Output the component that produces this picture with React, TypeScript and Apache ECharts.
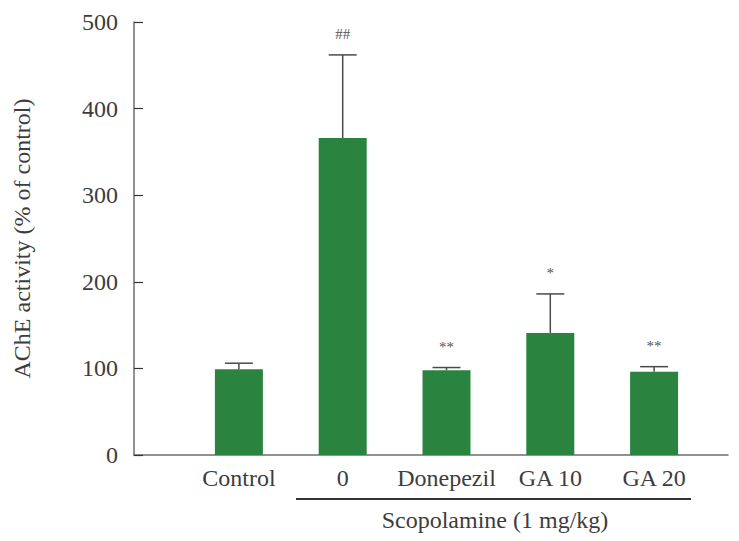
import React, { useEffect, useRef } from "react";
import * as echarts from "echarts";

const categories = ["Control", "0", "Donepezil", "GA 10", "GA 20"];
const means = [99, 366, 98, 141, 96];
const errorTops = [106, 462, 101, 186, 102];
const marks = ["", "##", "**", "*", "**"];
const yTicks = { min: 0, max: 500, interval: 100 };
const yTitle = "AChE activity (% of control)";
const groupLabel = "Scopolamine (1 mg/kg)";

const FONT = "'Liberation Serif', 'DejaVu Serif', serif";
const TEXT = "#3d3d3d";
const BAR = "#2a843f";

export default function App() {
  const ref = useRef<HTMLDivElement>(null);
  useEffect(() => {
    if (!ref.current) return;
    const chart = echarts.init(ref.current, null, { renderer: "svg" });
    const top = 22;
    const bottom = 86;
    chart.setOption({
      animation: false,
      backgroundColor: "#ffffff",
      grid: [
        { left: 134, right: 11, top, bottom },
        { left: 187, right: 33, top, bottom },
      ],
      xAxis: [
        {
          type: "value",
          gridIndex: 0,
          min: 0,
          max: 1,
          axisLine: { show: true, lineStyle: { color: "#6e6e6e", width: 1.5 } },
          axisTick: { show: false },
          axisLabel: { show: false },
          splitLine: { show: false },
        },
        {
          type: "category",
          gridIndex: 1,
          data: categories,
          axisLine: { show: false },
          axisTick: { show: false },
          axisLabel: {
            color: TEXT,
            fontFamily: FONT,
            fontSize: 24,
            margin: 11,
            interval: 0,
          },
          splitLine: { show: false },
        },
      ],
      yAxis: [
        {
          type: "value",
          gridIndex: 0,
          min: yTicks.min,
          max: yTicks.max,
          interval: yTicks.interval,
          name: yTitle,
          nameLocation: "middle",
          nameGap: 100,
          nameTextStyle: { color: TEXT, fontFamily: FONT, fontSize: 24 },
          axisLine: { show: true, lineStyle: { color: "#6e6e6e", width: 1.5 } },
          axisTick: { show: true, inside: true, length: 9, lineStyle: { color: "#333", width: 1.2 } },
          axisLabel: { color: TEXT, fontFamily: FONT, fontSize: 24, margin: 16 },
          splitLine: { show: false },
        },
        {
          type: "value",
          gridIndex: 1,
          min: yTicks.min,
          max: yTicks.max,
          interval: yTicks.interval,
          show: false,
          splitLine: { show: false },
        },
      ],
      series: [
        {
          type: "bar",
          xAxisIndex: 1,
          yAxisIndex: 1,
          data: means,
          barWidth: 48,
          itemStyle: { color: BAR },
        },
        {
          type: "custom",
          xAxisIndex: 1,
          yAxisIndex: 1,
          data: means.map((m, i) => [i, m, errorTops[i]]),
          z: 5,
          renderItem: (params: any, api: any) => {
            const i = api.value(0);
            const low = api.coord([i, api.value(1)]);
            const high = api.coord([i, api.value(2)]);
            const half = 14;
            const stroke = { stroke: "#4a4a4a", lineWidth: 1.5 };
            const children: any[] = [
              { type: "line", shape: { x1: low[0], y1: low[1], x2: high[0], y2: high[1] }, style: stroke },
              { type: "line", shape: { x1: high[0] - half, y1: high[1], x2: high[0] + half, y2: high[1] }, style: stroke },
            ];
            const mk = marks[params.dataIndex];
            if (mk) {
              children.push({
                type: "text",
                x: high[0],
                y: high[1] - 21,
                style: {
                  text: mk,
                  fill: "#555",
                  font: `15px ${FONT}`,
                  align: "center",
                  verticalAlign: "middle",
                },
              });
            }
            return { type: "group", children };
          },
        },
      ],
      graphic: [
        {
          type: "line",
          shape: { x1: 296, y1: 499, x2: 691, y2: 499 },
          style: { stroke: "#333", lineWidth: 2 },
        },
        {
          type: "text",
          x: 495,
          y: 520,
          style: {
            text: groupLabel,
            fill: TEXT,
            font: `24px ${FONT}`,
            align: "center",
            verticalAlign: "middle",
          },
        },
      ],
    });
    return () => chart.dispose();
  }, []);
  return (
    <div
      ref={ref}
      style={{ position: "fixed", left: 0, top: 0, width: 739, height: 541, background: "#fff" }}
    />
  );
}
